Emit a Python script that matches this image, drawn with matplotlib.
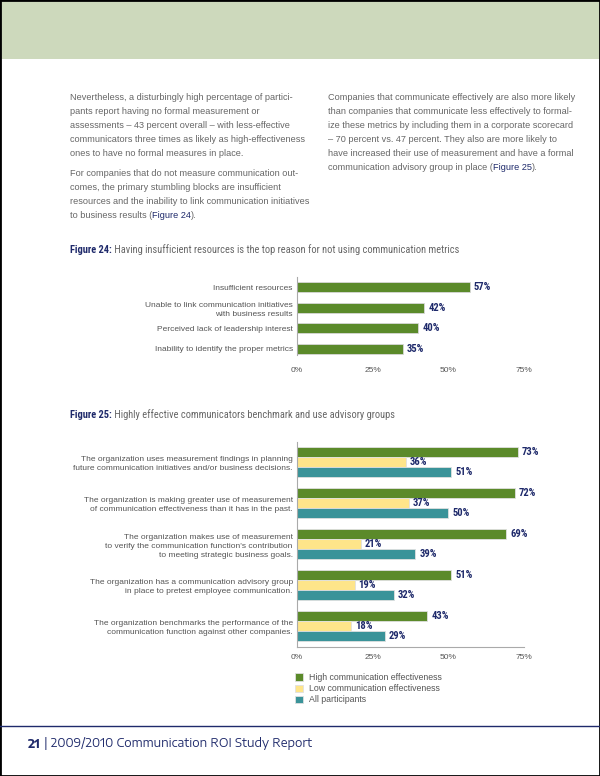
import matplotlib
matplotlib.use("Agg")
import matplotlib.pyplot as plt
from matplotlib.patches import Rectangle
from matplotlib.lines import Line2D

# polices
NARROW = ['Roboto Condensed', 'DejaVu Sans']
LARGE = ['Encode Sans Expanded', 'Liberation Sans', 'DejaVu Sans']
plt.rcParams['font.family'] = ['Liberation Sans', 'DejaVu Sans']

NAVY = '#1F2A6B'
GRIS = '#666666'
VERT = '#5B8A2A'
JAUNE = '#FEE58A'
BLEU = '#3A9399'

# textes du corps
gauche_p1 = ["Nevertheless, a disturbingly high percentage of partici-",
             "pants report having no formal measurement or",
             "assessments \u2013 43 percent overall \u2013 with less-effective",
             "communicators three times as likely as high-effectiveness",
             "ones to have no formal measures in place."]
gauche_p2 = ["For companies that do not measure communication out-",
             "comes, the primary stumbling blocks are insufficient",
             "resources and the inability to link communication initiatives"]
droite = ["Companies that communicate effectively are also more likely",
          "than companies that communicate less effectively to formal-",
          "ize these metrics by including them in a corporate scorecard",
          "\u2013 70 percent vs. 47 percent. They also are more likely to",
          "have increased their use of measurement and have a formal"]

# donnees figure 24
raisons = ["Insufficient resources",
           "Unable to link communication initiatives\nwith business results",
           "Perceived lack of leadership interest",
           "Inability to identify the proper metrics"]
pct_raisons = [57, 42, 40, 35]

# donnees figure 25
pratiques = ["The organization uses measurement findings in planning\nfuture communication initiatives and/or business decisions.",
             "The organization is making greater use of measurement\nof communication effectiveness than it has in the past.",
             "The organization makes use of measurement\nto verify the communication function's contribution\nto meeting strategic business goals.",
             "The organization has a communication advisory group\nin place to pretest employee communication.",
             "The organization benchmarks the performance of the\ncommunication function against other companies."]
haute = [73, 72, 69, 51, 43]
basse = [36, 37, 21, 19, 18]
tous = [51, 50, 39, 32, 29]
series = ["High communication effectiveness", "Low communication effectiveness", "All participants"]

ticks = [0, 25, 50, 75]
tick_labels = ['0%', '25%', '50%', '75%']

fig = plt.figure(figsize=(6, 7.76), dpi=100)

def fx(x):
    return x / 600

def fy(y):
    return 1 - y / 776

# axe de fond pour les textes de la page
ax0 = fig.add_axes([0, 0, 1, 1])
ax0.set_xlim(0, 600)
ax0.set_ylim(776, 0)
ax0.axis('off')

# bandeau du haut
ax0.add_patch(Rectangle((0, 0), 600, 59, color='#CDD9BC', lw=0))

def suite(t, s, **kw):
    return ax0.annotate(s, xy=(1, 0), xycoords=t, va='bottom', **kw)

TB = 6.6
LH = 14
# texte colonne gauche
for i, ligne in enumerate(gauche_p1):
    ax0.text(70, 98 + LH * i, ligne, fontsize=TB, color=GRIS, va='center')
for i, ligne in enumerate(gauche_p2):
    ax0.text(70, 174 + LH * i, ligne, fontsize=TB, color=GRIS, va='center')
t = ax0.text(70, 174 + LH * 3, "to business results (", fontsize=TB, color=GRIS, va='center')
t = suite(t, "Figure 24", fontsize=TB, color=NAVY)
suite(t, ").", fontsize=TB, color=GRIS)

# texte colonne droite
for i, ligne in enumerate(droite):
    ax0.text(328, 98 + LH * i, ligne, fontsize=TB, color=GRIS, va='center')
t = ax0.text(328, 98 + LH * 5, "communication advisory group in place (", fontsize=TB, color=GRIS, va='center')
t = suite(t, "Figure 25", fontsize=TB, color=NAVY)
suite(t, ").", fontsize=TB, color=GRIS)

# titres
def titre(y, debut, reste):
    t = ax0.text(70, y, debut, fontsize=7.5, color=NAVY, fontweight='bold',
                 family=NARROW, va='center')
    suite(t, reste, fontsize=7.5, color=GRIS, family=NARROW)

titre(250, "Figure 24:", " Having insufficient resources is the top reason for not using communication metrics")
titre(415, "Figure 25:", " Highly effective communicators benchmark and use advisory groups")

# FIGURE 24
ax1 = fig.add_axes([fx(297), fy(355), 227 / 600, 78 / 776])
y1 = list(range(len(raisons)))
b = ax1.barh(y1, pct_raisons, height=0.49, color=VERT, edgecolor='#d8d8d8', lw=0.6)
ax1.bar_label(b, labels=[f'{v}%' for v in pct_raisons], padding=3, fontsize=7.6,
              color=NAVY, fontweight='bold', family=NARROW)
ax1.set_xlim(0, 75)
ax1.set_ylim(3.3, -0.5)
ax1.set_yticks(y1)
ax1.set_yticklabels(raisons, fontsize=6, color='#555555', linespacing=1.4)
ax1.set_xticks(ticks)
ax1.set_xticklabels(tick_labels, fontsize=6, color='#555555')
ax1.tick_params(length=0)
ax1.tick_params(axis='x', pad=9)
ax1.tick_params(axis='y', pad=3)
for s in ['top', 'right', 'bottom']:
    ax1.spines[s].set_visible(False)
ax1.spines['left'].set_color('#aaaaaa')

# FIGURE 25
ax2 = fig.add_axes([fx(297), fy(647), 227 / 600, 205 / 776])
y2 = list(range(len(pratiques)))
h = 0.245
barres = []
for dec, vals, coul in [(-h, haute, VERT), (0, basse, JAUNE), (h, tous, BLEU)]:
    bb = ax2.barh([v + dec for v in y2], vals, height=h, color=coul,
                  edgecolor='#e0e0e0', lw=0.6)
    ax2.bar_label(bb, labels=[f'{v}%' for v in vals], padding=3, fontsize=7.6,
                  color=NAVY, fontweight='bold', family=NARROW)
    barres.append(bb)
ax2.set_xlim(0, 75)
ax2.set_ylim(4.51, -0.49)
ax2.set_yticks(y2)
ax2.set_yticklabels(pratiques, fontsize=6, color='#555555', linespacing=1.4)
ax2.set_xticks(ticks)
ax2.set_xticklabels(tick_labels, fontsize=6, color='#555555')
ax2.tick_params(length=0)
ax2.tick_params(axis='x', pad=5)
ax2.tick_params(axis='y', pad=3)
for s in ['top', 'right']:
    ax2.spines[s].set_visible(False)
ax2.spines['left'].set_color('#aaaaaa')
ax2.spines['bottom'].set_color('#aaaaaa')

fig.legend(barres, series, loc='upper left', bbox_to_anchor=(fx(295), fy(673)),
           frameon=False, fontsize=6.3, handlelength=0.9, handleheight=0.9,
           labelspacing=0.25, handletextpad=0.7, borderpad=0, borderaxespad=0,
           labelcolor='#555555')

# pied de page
ax0.add_line(Line2D([0, 600], [726, 726], color=NAVY, lw=1))
t = ax0.text(28, 744, "21", fontsize=8.4, color=NAVY, fontweight='bold', va='center',
             family=LARGE)
suite(t, " | 2009/2010 Communication ROI Study Report", fontsize=8.4, color=NAVY,
      family=LARGE)

# cadre
ax0.add_patch(Rectangle((0, 0), 600, 776, fill=False, ec='black', lw=2, clip_on=False))

fig.savefig('out.png', dpi=100)
